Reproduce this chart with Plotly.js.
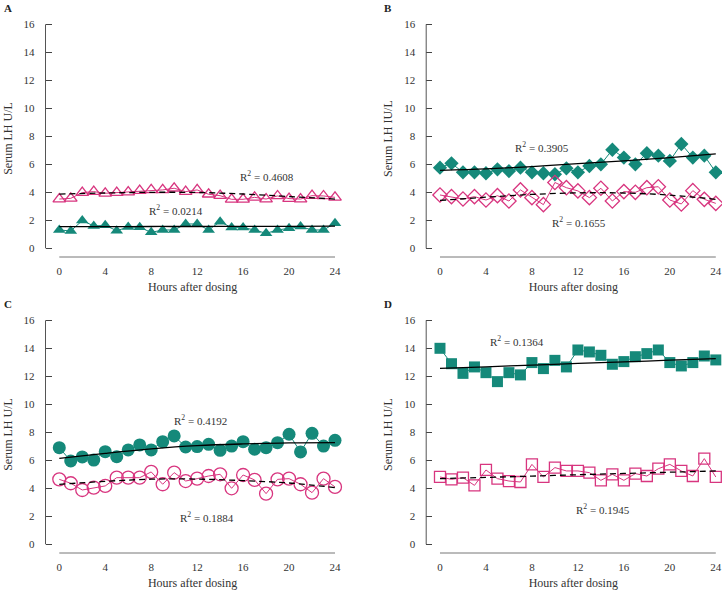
<!DOCTYPE html>
<html>
<head>
<meta charset="utf-8">
<script src="https://cdn.plot.ly/plotly-3.0.1.min.js"></script>
<style>
  body { margin: 0; background: #fff; }
  #myPlot { width: 722px; height: 593px; }
</style>
</head>
<body>
<div id="myPlot"></div>
<script>
// hours after dosing, same for every panel
const hours = [0,1,2,3,4,5,6,7,8,9,10,11,12,13,14,15,16,17,18,19,20,21,22,23,24];
const trendHours = [0, 4, 8, 12, 16, 20, 24];

// Panel A - triangles
const aGreen = [1.31,1.24,1.98,1.60,1.64,1.26,1.52,1.50,1.14,1.31,1.31,1.74,1.74,1.31,1.90,1.48,1.48,1.31,1.07,1.31,1.43,1.55,1.31,1.31,1.79];
const aPink = [3.52,3.57,3.98,4.05,3.93,3.98,4.02,4.12,4.17,4.17,4.29,4.05,4.17,3.86,3.76,3.50,3.50,3.64,3.52,3.74,3.55,3.52,3.76,3.74,3.64];
const aGreenTrend = [1.55,1.55,1.56,1.56,1.57,1.57,1.58];
const aPinkTrend = [3.87,3.95,4.00,3.99,3.88,3.70,3.52];

// Panel B - diamonds
const bGreen = [5.76,6.07,5.43,5.43,5.36,5.64,5.52,5.76,5.43,5.36,5.29,5.71,5.43,5.88,6.00,7.04,6.48,6.00,6.79,6.62,6.24,7.45,6.48,6.62,5.43];
const bPink = [3.81,3.69,3.52,3.69,3.45,3.76,3.38,4.17,3.62,3.12,4.70,4.33,4.10,3.62,4.29,3.38,4.05,4.00,4.33,4.40,3.45,3.17,4.12,3.50,3.21];
const bGreenTrend = [5.57,5.68,5.84,6.05,6.25,6.48,6.74];
const bPinkTrend = [3.42,3.65,3.85,3.96,3.95,3.80,3.50];

// Panel C - circles
const cGreen = [6.90,5.95,6.24,6.02,6.62,6.26,6.74,7.10,6.74,7.33,7.74,6.95,6.98,7.14,6.71,7.02,7.33,6.79,6.90,7.26,7.86,6.60,7.93,7.02,7.43];
const cPink = [4.64,4.36,3.88,4.05,4.17,4.76,4.76,4.76,5.17,4.29,5.12,4.52,4.69,4.88,5.00,4.00,4.95,4.60,3.62,4.64,4.69,4.29,3.69,4.69,4.10];
const cGreenTrend = [6.14,6.50,6.82,7.05,7.17,7.24,7.26];
const cPinkTrend = [4.28,4.50,4.65,4.66,4.55,4.38,4.05];

// Panel D - squares
const dGreen = [14.00,12.90,12.21,12.67,12.26,11.62,12.26,12.10,12.98,12.55,13.14,12.67,13.88,13.74,13.50,12.86,13.05,13.40,13.62,13.88,12.98,12.74,12.98,13.45,13.17];
const dPink = [4.81,4.64,4.76,4.21,5.31,4.69,4.52,4.45,5.71,4.81,5.48,5.24,5.24,5.12,4.57,5.00,4.57,5.05,4.88,5.40,5.71,5.24,4.88,6.12,4.81];
const dGreenTrend = [12.57,12.68,12.80,12.92,13.03,13.15,13.26];
const dPinkTrend = [4.69,4.78,4.87,4.97,5.06,5.15,5.24];

const panelLetters = ["A", "B", "C", "D"];
const yTitles = ["Serum LH U/L", "Serum LH IU/L", "Serum LH U/L", "Serum LH U/L"];
// R squared of the green fit and of the pink fit, per panel
const rGreen = ["0.0214", "0.3905", "0.4192", "0.1364"];
const rPink = ["0.4608", "0.1655", "0.1884", "0.1945"];
// where the labels sit, [x, y] in data units
const rGreenPos = [[10.2, 2.74], [8.9, 7.24], [12.3, 8.88], [6.7, 14.52]];
const rPinkPos = [[18.1, 5.16], [12.1, 1.88], [12.9, 1.97], [14.2, 2.52]];
const yTicks = [0, 2, 4, 6, 8, 10, 12, 14, 16];
const xTicks = [0, 4, 8, 12, 16, 20, 24];

const green = "#15897a";
const pink = "#d8357f";
const font = "Liberation Serif, Times New Roman, serif";

const panels = [
  {green: aGreen, pink: aPink, gT: aGreenTrend, pT: aPinkTrend, sym: "triangle-up", size: 11},
  {green: bGreen, pink: bPink, gT: bGreenTrend, pT: bPinkTrend, sym: "diamond", size: 11},
  {green: cGreen, pink: cPink, gT: cGreenTrend, pT: cPinkTrend, sym: "circle", size: 13},
  {green: dGreen, pink: dPink, gT: dGreenTrend, pT: dPinkTrend, sym: "square", size: 11}
];

// plot areas in pixels [left, right, top, bottom]
const boxes = [[45.5, 339.6, 20.1, 257], [426.2, 720.4, 20.1, 257], [45.5, 339.6, 316.1, 553], [426.2, 720.4, 316.1, 553]];

const data = [];
const layout = {
  width: 722, height: 593,
  margin: {l: 0, r: 0, t: 0, b: 0},
  paper_bgcolor: "#fff", plot_bgcolor: "#fff",
  showlegend: false,
  font: {family: font, size: 11, color: "#333"},
  annotations: [], shapes: []
};

panels.forEach(function (p, i) {
  const n = i === 0 ? "" : String(i + 1);
  const xa = "x" + n, ya = "y" + n;
  const b = boxes[i];

  data.push({x: hours, y: p.green, xaxis: xa, yaxis: ya, mode: "lines+markers", cliponaxis: false,
    line: {color: green, width: 1}, marker: {symbol: p.sym, size: p.size, color: green}});
  data.push({x: hours, y: p.pink, xaxis: xa, yaxis: ya, mode: "lines+markers", cliponaxis: false,
    line: {color: pink, width: 1}, marker: {symbol: p.sym + "-open", size: p.size, color: pink, line: {width: 1.3}}});
  data.push({x: trendHours, y: p.gT, xaxis: xa, yaxis: ya, mode: "lines",
    line: {color: "#000", width: 1.3, shape: "spline"}});
  data.push({x: trendHours, y: p.pT, xaxis: xa, yaxis: ya, mode: "lines",
    line: {color: "#000", width: 1.3, dash: "6px,4px", shape: "spline"}});

  layout["xaxis" + n] = {
    domain: [b[0] / 722, b[1] / 722], anchor: ya, range: [-1.2, 24.4],
    showgrid: false, zeroline: false, showline: false, ticks: "",
    tickvals: xTicks, ticklabelstandoff: 6,
    title: {text: "Hours after dosing", font: {size: 12, color: "#333"}, standoff: 6}
  };
  layout["yaxis" + n] = {
    domain: [1 - b[3] / 593, 1 - b[2] / 593], anchor: xa, range: [-0.62, 16.3],
    showgrid: false, zeroline: false, showline: false,
    ticks: "inside", ticklen: 6, tickcolor: "#444", tickvals: yTicks, ticklabelstandoff: 10,
    title: {text: yTitles[i], font: {size: 12, color: "#333"}, standoff: 8}
  };

  // detached axis lines
  layout.shapes.push({type: "line", xref: xa + " domain", yref: ya, x0: 0, x1: 0, y0: 0, y1: 16,
    line: {color: "#555", width: 1}});
  layout.shapes.push({type: "line", xref: xa, yref: ya + " domain", x0: 0, x1: 24, y0: 0, y1: 0,
    line: {color: "#777", width: 1}});

  layout.annotations.push({xref: xa, yref: ya, x: rGreenPos[i][0], y: rGreenPos[i][1],
    text: "R<sup>2</sup> = " + rGreen[i], showarrow: false, font: {size: 11, color: "#333"}});
  layout.annotations.push({xref: xa, yref: ya, x: rPinkPos[i][0], y: rPinkPos[i][1],
    text: "R<sup>2</sup> = " + rPink[i], showarrow: false, font: {size: 11, color: "#333"}});

  layout.annotations.push({xref: "paper", yref: "paper", x: (i % 2 === 0 ? 2 : 382) / 722,
    y: 1 - (i < 2 ? 0 : 296) / 593, xanchor: "left", yanchor: "top",
    text: "<b>" + panelLetters[i] + "</b>", showarrow: false, font: {size: 11, color: "#222"}});
});

Plotly.newPlot("myPlot", data, layout, {staticPlot: true});
</script>
</body>
</html>
